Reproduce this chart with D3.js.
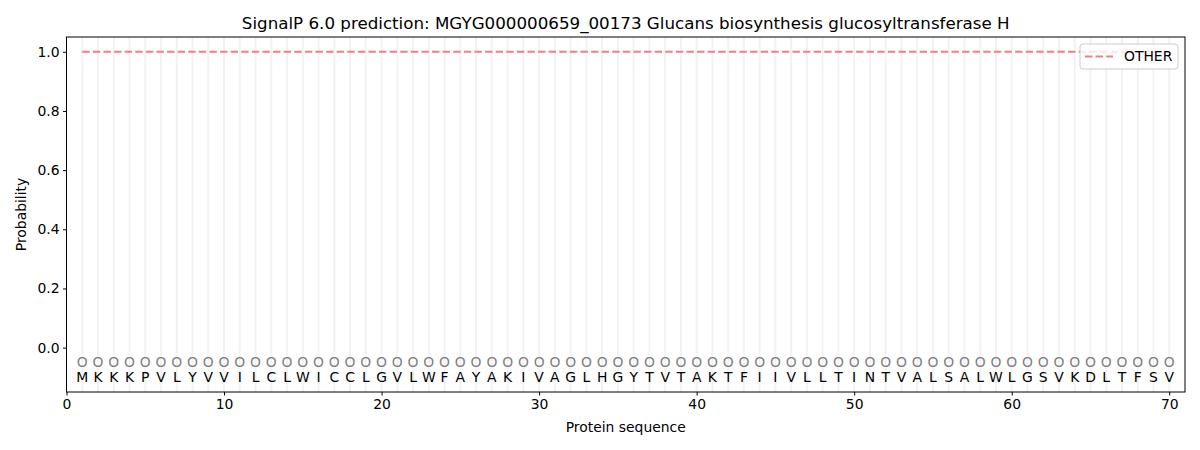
<!DOCTYPE html>
<html>
<head>
<meta charset="utf-8">
<script src="https://cdn.jsdelivr.net/npm/d3@7"></script>
<style>
  body { margin: 0; background: #fff; }
  svg text { font-family: "DejaVu Sans", sans-serif; fill: #000; }
</style>
</head>
<body>
<svg id="chart" width="1200" height="450"></svg>
<script>
const sequence = "MKKKPVLYVVILCLWICCLGVLWFAYAKIVAGLHGYTVTAKTFIIVLLTINTVALSALWLGSVKDLTFSV".split("");
const positions = sequence.map((d, i) => i + 1);
const predLabels = positions.map(() => "O");
const otherProb = positions.map(() => 1.0);
const xTicks = [0, 10, 20, 30, 40, 50, 60, 70];
const yTicks = [0.0, 0.2, 0.4, 0.6, 0.8, 1.0];

const svg = d3.select("#chart");
const margin = { left: 66.5, right: 15, top: 37, bottom: 58 };
const width = 1200, height = 450;

const x = d3.scaleLinear().domain([0, 71]).range([margin.left, width - margin.right]);
const y = d3.scaleLinear().domain([-0.15, 1.05]).range([height - margin.bottom, margin.top]);

// vertical grid at each residue
svg.append("g")
  .selectAll("line")
  .data(positions)
  .enter().append("line")
  .attr("x1", d => x(d)).attr("x2", d => x(d))
  .attr("y1", y(1.05)).attr("y2", y(-0.15))
  .attr("stroke", "#f2f2f2")
  .attr("stroke-width", 2);

// OTHER probability line
const line = d3.line().x((d, i) => x(positions[i])).y(d => y(d));
svg.append("path")
  .datum(otherProb)
  .attr("d", line)
  .attr("fill", "none")
  .attr("stroke", "#f08080")
  .attr("stroke-width", 2)
  .attr("stroke-dasharray", "7.4,3.2");

// predicted label per residue
svg.append("g")
  .selectAll("text")
  .data(predLabels)
  .enter().append("text")
  .attr("x", (d, i) => x(positions[i]))
  .attr("y", y(-0.05))
  .attr("dy", "0.35em")
  .attr("text-anchor", "middle")
  .style("font-size", "13.9px")
  .style("fill", "#808080")
  .text(d => d);

// residues
svg.append("g")
  .selectAll("text")
  .data(sequence)
  .enter().append("text")
  .attr("x", (d, i) => x(positions[i]))
  .attr("y", y(-0.1))
  .attr("dy", "0.35em")
  .attr("text-anchor", "middle")
  .style("font-size", "13.9px")
  .text(d => d);

// frame
svg.append("rect")
  .attr("x", x(0)).attr("y", y(1.05))
  .attr("width", x(71) - x(0)).attr("height", y(-0.15) - y(1.05))
  .attr("fill", "none").attr("stroke", "#000").attr("stroke-width", 1);

// axes
const xAxis = svg.append("g")
  .attr("transform", `translate(0,${y(-0.15)})`)
  .call(d3.axisBottom(x).tickValues(xTicks).tickSize(3.5).tickPadding(3.5));
const yAxis = svg.append("g")
  .attr("transform", `translate(${x(0)},0)`)
  .call(d3.axisLeft(y).tickValues(yTicks).tickFormat(d3.format(".1f")).tickSize(3.5).tickPadding(3.5));
[xAxis, yAxis].forEach(a => {
  a.select(".domain").remove();
  a.selectAll("text").style("font-size", "13.9px").style("font-family", "DejaVu Sans, sans-serif");
  a.selectAll("line").attr("stroke", "#000");
});

// labels
svg.append("text")
  .attr("x", (x(0) + x(71)) / 2).attr("y", 432)
  .attr("text-anchor", "middle").style("font-size", "13.9px")
  .text("Protein sequence");
svg.append("text")
  .attr("transform", `translate(26,${(y(1.05) + y(-0.15)) / 2}) rotate(-90)`)
  .attr("text-anchor", "middle").style("font-size", "13.9px")
  .text("Probability");
svg.append("text")
  .attr("x", (x(0) + x(71)) / 2).attr("y", 29)
  .attr("text-anchor", "middle").style("font-size", "16.7px")
  .text("SignalP 6.0 prediction: MGYG000000659_00173 Glucans biosynthesis glucosyltransferase H");

// legend
const lg = svg.append("g").attr("transform", `translate(1080,44)`);
lg.append("rect")
  .attr("width", 98).attr("height", 25).attr("rx", 3)
  .attr("fill", "#fff").attr("fill-opacity", 0.8)
  .attr("stroke", "#ccc").attr("stroke-width", 1);
lg.append("line")
  .attr("x1", 5).attr("x2", 33).attr("y1", 12.5).attr("y2", 12.5)
  .attr("stroke", "#f08080").attr("stroke-width", 2)
  .attr("stroke-dasharray", "7.4,3.2");
lg.append("text")
  .attr("x", 44).attr("y", 12.5).attr("dy", "0.35em")
  .style("font-size", "13.9px")
  .text("OTHER");
</script>
</body>
</html>
